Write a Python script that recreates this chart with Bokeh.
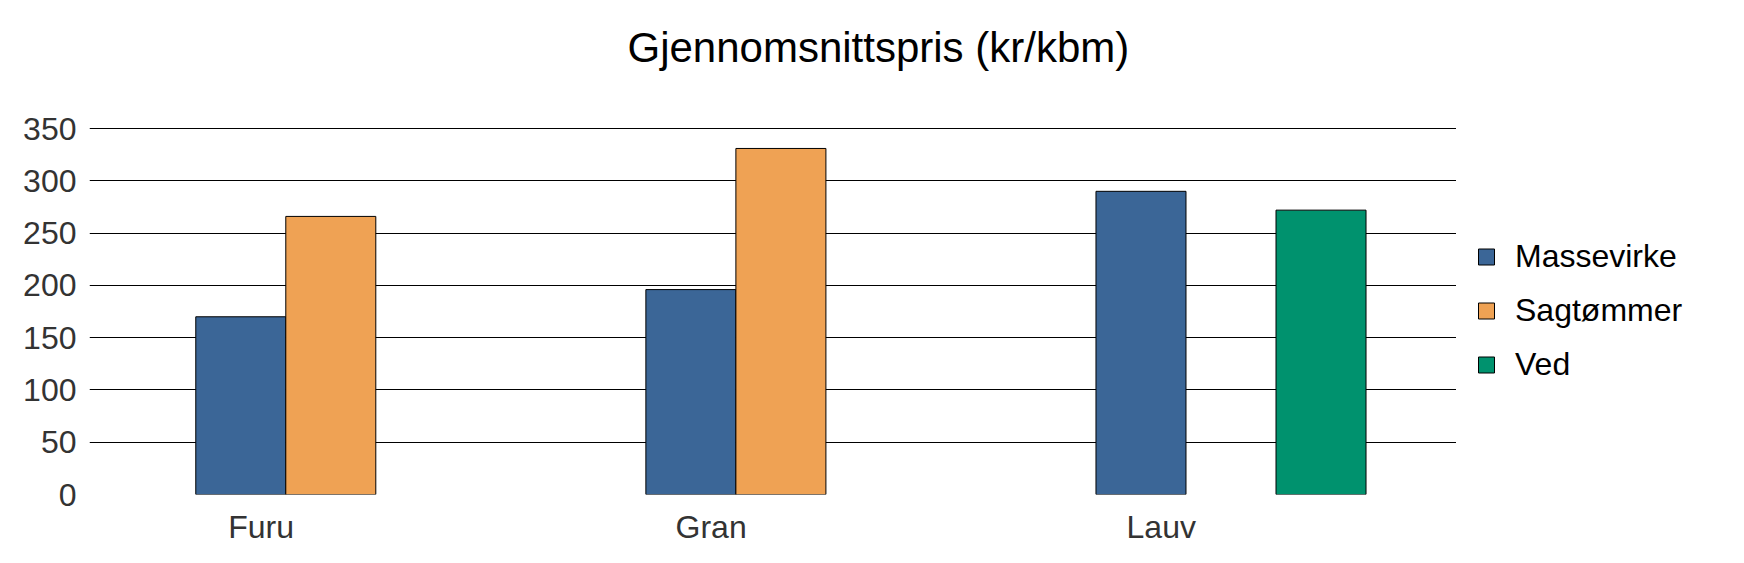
from bokeh.plotting import figure
from bokeh.models import Range1d, FixedTicker, Legend, LegendItem, ColumnDataSource
from bokeh.layouts import row
from bokeh.embed import file_html
from bokeh.resources import INLINE

# ---- data ----
categories = ["Furu", "Gran", "Lauv"]
series_names = ["Massevirke", "Sagtømmer", "Ved"]
massevirke = [170, 196, 290]
sagtommer = [266, 331, None]
ved = [None, None, 272]
y_ticks = [0, 50, 100, 150, 200, 250, 300, 350]
title_text = "Gjennomsnittspris (kr/kbm)"

# ---- style ----
colors = ["#3B6697", "#EFA254", "#00926E"]
FONT = "Liberation Sans"
bar_w = 0.2
group_shift = 0.155  # centre of slot 1 relative to category tick
MAIN_W, LEG_W, H = 1456, 288, 563

p = figure(width=MAIN_W, height=H, output_backend="svg", toolbar_location=None,
           x_range=Range1d(-0.3811, 2.656), y_range=Range1d(0, 352),
           min_border_left=89, min_border_right=0, min_border_top=126, min_border_bottom=69)
p.outline_line_color = None
p.background_fill_color = "white"
p.border_fill_color = "white"

p.title.text = title_text + "\n"
p.title.text_font = FONT
p.title.text_font_size = "42px"
p.title.text_font_style = "normal"
p.title.text_color = "black"
p.title.align = "left"
p.title.offset = 538
p.title.vertical_align = "bottom"
p.title.standoff = 18

for j, vals in enumerate([massevirke, sagtommer, ved]):
    xs, tops = [], []
    for i, v in enumerate(vals):
        if v is not None:
            xs.append(i + (j - 1) * bar_w + group_shift)
            tops.append(v)
    src = ColumnDataSource(dict(x=xs, top=tops))
    p.vbar(x="x", top="top", width=bar_w, bottom=0, source=src,
           fill_color=colors[j], line_color="black", line_width=1)

# axes
p.xaxis.ticker = FixedTicker(ticks=list(range(len(categories))))
p.xaxis.major_label_overrides = {i: c for i, c in enumerate(categories)}
p.yaxis.ticker = FixedTicker(ticks=y_ticks)
for ax in (p.xaxis, p.yaxis):
    ax.axis_line_color = None
    ax.major_tick_line_color = None
    ax.minor_tick_line_color = None
    ax.major_tick_in = 0
    ax.major_tick_out = 0
    ax.major_label_text_font = FONT
    ax.major_label_text_font_size = "32px"
    ax.major_label_text_color = "#333333"
p.yaxis.major_label_standoff = 13
p.xaxis.major_label_standoff = 14

p.xgrid.grid_line_color = None
p.ygrid.ticker = FixedTicker(ticks=y_ticks)
p.ygrid.grid_line_color = "black"
p.ygrid.grid_line_width = 1

# ---- legend panel (separate figure to the right) ----
q = figure(width=LEG_W, height=H, output_backend="svg", toolbar_location=None,
           x_range=Range1d(0, 1), y_range=Range1d(0, 1),
           min_border_left=0, min_border_right=0, min_border_top=126, min_border_bottom=69)
q.axis.visible = False
q.grid.visible = False
q.outline_line_color = None
q.background_fill_color = "white"
q.border_fill_color = "white"
items = []
for j, name in enumerate(series_names):
    # hidden placeholder renderer: only provides the legend swatch
    r = q.vbar(x=[0.5], top=[0.5], width=0.1, fill_color=colors[j], line_color="black",
               line_width=1, visible=False)
    items.append(LegendItem(label=name, renderers=[r]))
legend = Legend(items=items, location="left", orientation="vertical",
                glyph_width=20, glyph_height=20, label_height=16, label_standoff=19,
                spacing=17, padding=0, margin=20,
                border_line_color=None, background_fill_alpha=0,
                label_text_font=FONT, label_text_font_size="32px", label_text_color="black")
q.add_layout(legend)

layout = row(p, q)
open("out.html", "w").write(file_html(layout, INLINE))
